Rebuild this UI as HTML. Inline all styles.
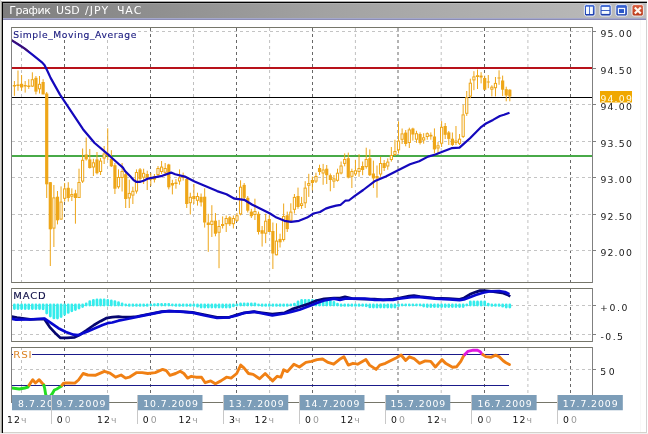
<!DOCTYPE html>
<html><head><meta charset="utf-8"><title>USD/JPY</title>
<style>
html,body{margin:0;padding:0;background:#fff;width:648px;height:434px;overflow:hidden}
svg{display:block}
text{font-family:"DejaVu Sans","Liberation Sans","Noto Sans CJK SC",sans-serif}
</style></head><body>
<svg width="648" height="434" viewBox="0 0 648 434">
<rect x="0" y="0" width="648" height="434" fill="#ffffff"/>
<rect x="0" y="0" width="1" height="434" fill="#d8d8d4"/>
<rect x="1" y="2" width="1" height="432" fill="#a4a49e"/>
<rect x="1" y="1" width="646" height="1" fill="#a8a8a8"/>
<defs><linearGradient id="tg" x1="0" y1="0" x2="1" y2="0"><stop offset="0" stop-color="#7e7e7e"/><stop offset="0.5" stop-color="#a2a2a2"/><stop offset="1" stop-color="#bcbcbc"/></linearGradient><clipPath id="cm"><rect x="12" y="28" width="580" height="254"/></clipPath><clipPath id="cmacd"><rect x="12" y="289" width="580" height="52"/></clipPath><clipPath id="crsi"><rect x="12" y="348" width="580" height="54"/></clipPath><clipPath id="rsiO"><rect x="0" y="354.5" width="648" height="31"/></clipPath><clipPath id="rsiG"><rect x="0" y="385.5" width="648" height="40"/></clipPath><clipPath id="rsiM"><rect x="0" y="300" width="648" height="54.5"/></clipPath></defs>
<rect x="3" y="3" width="643" height="15" fill="url(#tg)"/>
<rect x="3" y="3" width="643" height="1" fill="#ffffff" fill-opacity="0.12"/>
<rect x="3" y="18" width="643" height="1" fill="#a4a8cc"/>
<rect x="3" y="19" width="643" height="1" fill="#8c8cb4"/>
<rect x="2" y="2" width="645" height="1" fill="#000"/>
<rect x="2" y="2" width="1" height="431" fill="#000"/>
<rect x="646" y="3" width="1" height="430" fill="#d2d2d2"/>
<rect x="640" y="20" width="1" height="412" fill="#f8f8f8"/>
<rect x="3" y="432" width="644" height="1" fill="#d4d2cc"/>
<rect x="0" y="433" width="648" height="1" fill="#f0f0f0"/>
<text x="8.30" y="14" transform="scale(1.12,1)" fill="#ffffff" font-size="9.8" textLength="37.05" lengthAdjust="spacing">График</text>
<text x="50.09" y="14" transform="scale(1.12,1)" fill="#ffffff" font-size="9.8" textLength="20.98" lengthAdjust="spacing">USD</text>
<text x="75.80" y="14" transform="scale(1.12,1)" fill="#ffffff" font-size="9.8" textLength="20.89" lengthAdjust="spacing">/JPY</text>
<text x="104.38" y="14" transform="scale(1.12,1)" fill="#ffffff" font-size="9.8" textLength="21.96" lengthAdjust="spacing">ЧАС</text>
<linearGradient id="bb" x1="0" y1="0" x2="0" y2="1"><stop offset="0" stop-color="#3a66d6"/><stop offset="1" stop-color="#1c3ca8"/></linearGradient>
<linearGradient id="br" x1="0" y1="0" x2="0" y2="1"><stop offset="0" stop-color="#dc6040"/><stop offset="1" stop-color="#b83818"/></linearGradient>
<rect x="584.4" y="4.6" width="10.600000000000023" height="11.4" rx="2" fill="url(#bb)" stroke="#f4f8ff" stroke-width="0.9"/>
<rect x="586" y="6.7" width="3.1" height="7.3" fill="#f4faff"/><rect x="589.9" y="6.7" width="3" height="7.3" fill="#f4faff"/>
<rect x="600" y="4.6" width="11.200000000000045" height="11.4" rx="2" fill="url(#bb)" stroke="#f4f8ff" stroke-width="0.9"/>
<rect x="601.6" y="6.9" width="7.8" height="3.1" fill="#f4faff"/><rect x="601.6" y="10.9" width="7.8" height="3" fill="#f4faff"/>
<rect x="615.8" y="4.6" width="11.600000000000023" height="11.4" rx="2" fill="url(#bb)" stroke="#f4f8ff" stroke-width="0.9"/>
<rect x="617.8" y="7.8" width="7.4" height="6.4" fill="#f4faff"/><rect x="619" y="9.1" width="5" height="3.9" fill="#2a56c8"/>
<rect x="632" y="4.6" width="11.399999999999977" height="11.4" rx="2" fill="url(#br)" stroke="#f4f8ff" stroke-width="0.9"/>
<path d="M634.8 7.4L640.8 13.6M640.8 7.4L634.8 13.6" stroke="#fff8f0" stroke-width="2.2"/>
<line x1="21.5" y1="28" x2="21.5" y2="282" stroke="#c0c0c0" stroke-width="1" stroke-dasharray="3 3"/>
<line x1="107.5" y1="28" x2="107.5" y2="282" stroke="#c0c0c0" stroke-width="1" stroke-dasharray="3 3"/>
<line x1="193.5" y1="28" x2="193.5" y2="282" stroke="#c0c0c0" stroke-width="1" stroke-dasharray="3 3"/>
<line x1="269.6" y1="28" x2="269.6" y2="282" stroke="#c0c0c0" stroke-width="1" stroke-dasharray="3 3"/>
<line x1="355.4" y1="28" x2="355.4" y2="282" stroke="#c0c0c0" stroke-width="1" stroke-dasharray="3 3"/>
<line x1="441.2" y1="28" x2="441.2" y2="282" stroke="#c0c0c0" stroke-width="1" stroke-dasharray="3 3"/>
<line x1="527.9" y1="28" x2="527.9" y2="282" stroke="#c0c0c0" stroke-width="1" stroke-dasharray="3 3"/>
<line x1="64.5" y1="28" x2="64.5" y2="282" stroke="#686868" stroke-width="1" stroke-dasharray="3 3"/>
<line x1="150.5" y1="28" x2="150.5" y2="282" stroke="#686868" stroke-width="1" stroke-dasharray="3 3"/>
<line x1="236.5" y1="28" x2="236.5" y2="282" stroke="#686868" stroke-width="1" stroke-dasharray="3 3"/>
<line x1="312.5" y1="28" x2="312.5" y2="282" stroke="#686868" stroke-width="1" stroke-dasharray="3 3"/>
<line x1="398" y1="28" x2="398" y2="282" stroke="#686868" stroke-width="1" stroke-dasharray="3 3"/>
<line x1="484.5" y1="28" x2="484.5" y2="282" stroke="#686868" stroke-width="1" stroke-dasharray="3 3"/>
<line x1="570.5" y1="28" x2="570.5" y2="282" stroke="#686868" stroke-width="1" stroke-dasharray="3 3"/>
<line x1="21.5" y1="289" x2="21.5" y2="341" stroke="#c0c0c0" stroke-width="1" stroke-dasharray="3 3"/>
<line x1="107.5" y1="289" x2="107.5" y2="341" stroke="#c0c0c0" stroke-width="1" stroke-dasharray="3 3"/>
<line x1="193.5" y1="289" x2="193.5" y2="341" stroke="#c0c0c0" stroke-width="1" stroke-dasharray="3 3"/>
<line x1="269.6" y1="289" x2="269.6" y2="341" stroke="#c0c0c0" stroke-width="1" stroke-dasharray="3 3"/>
<line x1="355.4" y1="289" x2="355.4" y2="341" stroke="#c0c0c0" stroke-width="1" stroke-dasharray="3 3"/>
<line x1="441.2" y1="289" x2="441.2" y2="341" stroke="#c0c0c0" stroke-width="1" stroke-dasharray="3 3"/>
<line x1="527.9" y1="289" x2="527.9" y2="341" stroke="#c0c0c0" stroke-width="1" stroke-dasharray="3 3"/>
<line x1="64.5" y1="289" x2="64.5" y2="341" stroke="#686868" stroke-width="1" stroke-dasharray="3 3"/>
<line x1="150.5" y1="289" x2="150.5" y2="341" stroke="#686868" stroke-width="1" stroke-dasharray="3 3"/>
<line x1="236.5" y1="289" x2="236.5" y2="341" stroke="#686868" stroke-width="1" stroke-dasharray="3 3"/>
<line x1="312.5" y1="289" x2="312.5" y2="341" stroke="#686868" stroke-width="1" stroke-dasharray="3 3"/>
<line x1="398" y1="289" x2="398" y2="341" stroke="#686868" stroke-width="1" stroke-dasharray="3 3"/>
<line x1="484.5" y1="289" x2="484.5" y2="341" stroke="#686868" stroke-width="1" stroke-dasharray="3 3"/>
<line x1="570.5" y1="289" x2="570.5" y2="341" stroke="#686868" stroke-width="1" stroke-dasharray="3 3"/>
<line x1="21.5" y1="348" x2="21.5" y2="402" stroke="#c0c0c0" stroke-width="1" stroke-dasharray="3 3"/>
<line x1="107.5" y1="348" x2="107.5" y2="402" stroke="#c0c0c0" stroke-width="1" stroke-dasharray="3 3"/>
<line x1="193.5" y1="348" x2="193.5" y2="402" stroke="#c0c0c0" stroke-width="1" stroke-dasharray="3 3"/>
<line x1="269.6" y1="348" x2="269.6" y2="402" stroke="#c0c0c0" stroke-width="1" stroke-dasharray="3 3"/>
<line x1="355.4" y1="348" x2="355.4" y2="402" stroke="#c0c0c0" stroke-width="1" stroke-dasharray="3 3"/>
<line x1="441.2" y1="348" x2="441.2" y2="402" stroke="#c0c0c0" stroke-width="1" stroke-dasharray="3 3"/>
<line x1="527.9" y1="348" x2="527.9" y2="402" stroke="#c0c0c0" stroke-width="1" stroke-dasharray="3 3"/>
<line x1="64.5" y1="348" x2="64.5" y2="402" stroke="#686868" stroke-width="1" stroke-dasharray="3 3"/>
<line x1="150.5" y1="348" x2="150.5" y2="402" stroke="#686868" stroke-width="1" stroke-dasharray="3 3"/>
<line x1="236.5" y1="348" x2="236.5" y2="402" stroke="#686868" stroke-width="1" stroke-dasharray="3 3"/>
<line x1="312.5" y1="348" x2="312.5" y2="402" stroke="#686868" stroke-width="1" stroke-dasharray="3 3"/>
<line x1="398" y1="348" x2="398" y2="402" stroke="#686868" stroke-width="1" stroke-dasharray="3 3"/>
<line x1="484.5" y1="348" x2="484.5" y2="402" stroke="#686868" stroke-width="1" stroke-dasharray="3 3"/>
<line x1="570.5" y1="348" x2="570.5" y2="402" stroke="#686868" stroke-width="1" stroke-dasharray="3 3"/>
<line x1="12" y1="31.5" x2="592" y2="31.5" stroke="#c4c4c4" stroke-width="1" stroke-dasharray="3 3"/>
<line x1="592" y1="31.5" x2="596" y2="31.5" stroke="#808080" stroke-width="1"/>
<text x="600.4" y="37.1" fill="#1a1a1a" font-size="9.3" textLength="31.4" lengthAdjust="spacing">95.00</text>
<line x1="12" y1="68.5" x2="592" y2="68.5" stroke="#c4c4c4" stroke-width="1" stroke-dasharray="3 3"/>
<line x1="592" y1="68.5" x2="596" y2="68.5" stroke="#808080" stroke-width="1"/>
<text x="600.4" y="74.1" fill="#1a1a1a" font-size="9.3" textLength="31.4" lengthAdjust="spacing">94.50</text>
<line x1="12" y1="104.5" x2="592" y2="104.5" stroke="#c4c4c4" stroke-width="1" stroke-dasharray="3 3"/>
<line x1="592" y1="104.5" x2="596" y2="104.5" stroke="#808080" stroke-width="1"/>
<text x="600.4" y="110.1" fill="#1a1a1a" font-size="9.3" textLength="31.4" lengthAdjust="spacing">94.00</text>
<line x1="12" y1="141.5" x2="592" y2="141.5" stroke="#c4c4c4" stroke-width="1" stroke-dasharray="3 3"/>
<line x1="592" y1="141.5" x2="596" y2="141.5" stroke="#808080" stroke-width="1"/>
<text x="600.4" y="147.1" fill="#1a1a1a" font-size="9.3" textLength="31.4" lengthAdjust="spacing">93.50</text>
<line x1="12" y1="177.5" x2="592" y2="177.5" stroke="#c4c4c4" stroke-width="1" stroke-dasharray="3 3"/>
<line x1="592" y1="177.5" x2="596" y2="177.5" stroke="#808080" stroke-width="1"/>
<text x="600.4" y="183.1" fill="#1a1a1a" font-size="9.3" textLength="31.4" lengthAdjust="spacing">93.00</text>
<line x1="12" y1="214.5" x2="592" y2="214.5" stroke="#c4c4c4" stroke-width="1" stroke-dasharray="3 3"/>
<line x1="592" y1="214.5" x2="596" y2="214.5" stroke="#808080" stroke-width="1"/>
<text x="600.4" y="220.1" fill="#1a1a1a" font-size="9.3" textLength="31.4" lengthAdjust="spacing">92.50</text>
<line x1="12" y1="250.5" x2="592" y2="250.5" stroke="#c4c4c4" stroke-width="1" stroke-dasharray="3 3"/>
<line x1="592" y1="250.5" x2="596" y2="250.5" stroke="#808080" stroke-width="1"/>
<text x="600.4" y="256.1" fill="#1a1a1a" font-size="9.3" textLength="31.4" lengthAdjust="spacing">92.00</text>
<line x1="12" y1="305.5" x2="592" y2="305.5" stroke="#c4c4c4" stroke-width="1" stroke-dasharray="3 3"/>
<line x1="592" y1="305.5" x2="596" y2="305.5" stroke="#808080" stroke-width="1"/>
<text x="600.1" y="311.1" fill="#1a1a1a" font-size="9.3" textLength="27.3" lengthAdjust="spacing">+0.0</text>
<line x1="12" y1="334.5" x2="592" y2="334.5" stroke="#c4c4c4" stroke-width="1" stroke-dasharray="3 3"/>
<line x1="592" y1="334.5" x2="596" y2="334.5" stroke="#808080" stroke-width="1"/>
<text x="600.4" y="340.1" fill="#1a1a1a" font-size="9.3" textLength="22.6" lengthAdjust="spacing">-0.5</text>
<line x1="12" y1="369.5" x2="592" y2="369.5" stroke="#c4c4c4" stroke-width="1" stroke-dasharray="3 3"/>
<line x1="592" y1="369.5" x2="596" y2="369.5" stroke="#808080" stroke-width="1"/>
<text x="600.2" y="375.1" fill="#1a1a1a" font-size="9.3" textLength="14.4" lengthAdjust="spacing">50</text>
<g clip-path="url(#cm)">
<rect x="12" y="67" width="580" height="2" fill="#b8121a"/>
<rect x="12" y="155" width="580" height="2" fill="#48aa48"/>
<rect x="12" y="97" width="580" height="1" fill="#000"/>
<line x1="14.40" y1="81.0" x2="14.40" y2="95.8" stroke="#eea618" stroke-width="1"/><rect x="12.80" y="85.0" width="3.2" height="1.5" fill="#eea618"/><line x1="17.99" y1="70.5" x2="17.99" y2="90.7" stroke="#eea618" stroke-width="1"/><rect x="16.39" y="84.5" width="3.2" height="1.5" fill="#eea618"/><line x1="21.58" y1="75.0" x2="21.58" y2="90.7" stroke="#eea618" stroke-width="1"/><rect x="19.98" y="83.8" width="3.2" height="3.7" fill="#eea618"/><line x1="25.17" y1="81.0" x2="25.17" y2="92.6" stroke="#eea618" stroke-width="1"/><rect x="23.57" y="85.0" width="3.2" height="1.5" fill="#eea618"/><line x1="28.76" y1="79.2" x2="28.76" y2="88.9" stroke="#eea618" stroke-width="1"/><rect x="27.16" y="85.5" width="3.2" height="1.5" fill="#eea618"/><line x1="32.35" y1="72.3" x2="32.35" y2="87.0" stroke="#eea618" stroke-width="1"/><rect x="31.25" y="79.7" width="2.2" height="6.4" fill="#fff" stroke="#eea618" stroke-width="1"/><line x1="35.94" y1="76.0" x2="35.94" y2="94.4" stroke="#eea618" stroke-width="1"/><rect x="34.34" y="77.8" width="3.2" height="13.8" fill="#eea618"/><line x1="39.53" y1="76.0" x2="39.53" y2="93.5" stroke="#eea618" stroke-width="1"/><rect x="38.43" y="84.3" width="2.2" height="4.5" fill="#fff" stroke="#eea618" stroke-width="1"/><line x1="43.12" y1="79.2" x2="43.12" y2="94.4" stroke="#eea618" stroke-width="1"/><rect x="41.52" y="82.0" width="3.2" height="12.4" fill="#eea618"/><line x1="46.71" y1="92.0" x2="46.71" y2="198.0" stroke="#eea618" stroke-width="1"/><rect x="45.11" y="93.5" width="3.2" height="90.8" fill="#eea618"/><line x1="50.30" y1="182.0" x2="50.30" y2="266.0" stroke="#eea618" stroke-width="1"/><rect x="48.70" y="182.2" width="3.2" height="47.1" fill="#eea618"/><line x1="53.89" y1="185.0" x2="53.89" y2="247.0" stroke="#eea618" stroke-width="1"/><rect x="52.79" y="197.9" width="2.2" height="30.2" fill="#fff" stroke="#eea618" stroke-width="1"/><line x1="57.48" y1="191.0" x2="57.48" y2="224.4" stroke="#eea618" stroke-width="1"/><rect x="55.88" y="196.7" width="3.2" height="23.6" fill="#eea618"/><line x1="61.07" y1="186.4" x2="61.07" y2="219.6" stroke="#eea618" stroke-width="1"/><rect x="59.97" y="202.1" width="2.2" height="17.0" fill="#fff" stroke="#eea618" stroke-width="1"/><line x1="64.66" y1="183.0" x2="64.66" y2="201.6" stroke="#eea618" stroke-width="1"/><rect x="63.56" y="188.9" width="2.2" height="9.4" fill="#fff" stroke="#eea618" stroke-width="1"/><line x1="68.25" y1="182.2" x2="68.25" y2="201.6" stroke="#eea618" stroke-width="1"/><rect x="66.65" y="187.8" width="3.2" height="10.2" fill="#eea618"/><line x1="71.84" y1="188.4" x2="71.84" y2="201.0" stroke="#eea618" stroke-width="1"/><rect x="70.74" y="194.5" width="2.2" height="1.7" fill="#fff" stroke="#eea618" stroke-width="1"/><line x1="75.43" y1="189.8" x2="75.43" y2="223.7" stroke="#eea618" stroke-width="1"/><rect x="73.83" y="193.3" width="3.2" height="4.7" fill="#eea618"/><line x1="79.02" y1="168.7" x2="79.02" y2="198.0" stroke="#eea618" stroke-width="1"/><rect x="77.92" y="182.5" width="2.2" height="15.0" fill="#fff" stroke="#eea618" stroke-width="1"/><line x1="82.61" y1="148.5" x2="82.61" y2="183.0" stroke="#eea618" stroke-width="1"/><rect x="81.51" y="160.3" width="2.2" height="20.8" fill="#fff" stroke="#eea618" stroke-width="1"/><line x1="86.20" y1="137.5" x2="86.20" y2="160.6" stroke="#eea618" stroke-width="1"/><rect x="84.60" y="154.5" width="3.2" height="4.9" fill="#eea618"/><line x1="89.79" y1="149.0" x2="89.79" y2="168.6" stroke="#eea618" stroke-width="1"/><rect x="88.19" y="159.4" width="3.2" height="8.6" fill="#eea618"/><line x1="93.38" y1="158.8" x2="93.38" y2="176.0" stroke="#eea618" stroke-width="1"/><rect x="92.28" y="162.8" width="2.2" height="4.2" fill="#fff" stroke="#eea618" stroke-width="1"/><line x1="96.97" y1="152.0" x2="96.97" y2="174.4" stroke="#eea618" stroke-width="1"/><rect x="95.37" y="159.4" width="3.2" height="13.8" fill="#eea618"/><line x1="100.56" y1="158.0" x2="100.56" y2="175.0" stroke="#eea618" stroke-width="1"/><rect x="99.46" y="161.1" width="2.2" height="10.4" fill="#fff" stroke="#eea618" stroke-width="1"/><line x1="104.15" y1="146.0" x2="104.15" y2="164.0" stroke="#eea618" stroke-width="1"/><rect x="103.05" y="154.0" width="2.2" height="4.0" fill="#fff" stroke="#eea618" stroke-width="1"/><line x1="107.74" y1="128.3" x2="107.74" y2="160.0" stroke="#eea618" stroke-width="1"/><rect x="106.14" y="153.6" width="3.2" height="2.4" fill="#eea618"/><line x1="111.33" y1="150.2" x2="111.33" y2="167.0" stroke="#eea618" stroke-width="1"/><rect x="109.73" y="158.8" width="3.2" height="7.5" fill="#eea618"/><line x1="114.92" y1="163.0" x2="114.92" y2="194.0" stroke="#eea618" stroke-width="1"/><rect x="113.32" y="165.2" width="3.2" height="23.5" fill="#eea618"/><line x1="118.51" y1="169.4" x2="118.51" y2="188.7" stroke="#eea618" stroke-width="1"/><rect x="117.41" y="177.5" width="2.2" height="9.3" fill="#fff" stroke="#eea618" stroke-width="1"/><line x1="122.10" y1="163.0" x2="122.10" y2="191.5" stroke="#eea618" stroke-width="1"/><rect x="121.00" y="171.5" width="2.2" height="6.0" fill="#fff" stroke="#eea618" stroke-width="1"/><line x1="125.69" y1="172.8" x2="125.69" y2="208.0" stroke="#eea618" stroke-width="1"/><rect x="124.09" y="174.2" width="3.2" height="24.8" fill="#eea618"/><line x1="129.28" y1="179.7" x2="129.28" y2="208.0" stroke="#eea618" stroke-width="1"/><rect x="128.18" y="193.4" width="2.2" height="4.5" fill="#fff" stroke="#eea618" stroke-width="1"/><line x1="132.87" y1="186.7" x2="132.87" y2="204.0" stroke="#eea618" stroke-width="1"/><rect x="131.77" y="191.3" width="2.2" height="3.8" fill="#fff" stroke="#eea618" stroke-width="1"/><line x1="136.46" y1="169.4" x2="136.46" y2="193.6" stroke="#eea618" stroke-width="1"/><rect x="135.36" y="172.5" width="2.2" height="18.5" fill="#fff" stroke="#eea618" stroke-width="1"/><line x1="140.05" y1="168.0" x2="140.05" y2="183.0" stroke="#eea618" stroke-width="1"/><rect x="138.45" y="169.4" width="3.2" height="9.6" fill="#eea618"/><line x1="143.64" y1="168.7" x2="143.64" y2="184.0" stroke="#eea618" stroke-width="1"/><rect x="142.54" y="173.3" width="2.2" height="3.9" fill="#fff" stroke="#eea618" stroke-width="1"/><line x1="147.23" y1="170.7" x2="147.23" y2="190.0" stroke="#eea618" stroke-width="1"/><rect x="145.63" y="174.0" width="3.2" height="3.7" fill="#eea618"/><line x1="150.82" y1="172.8" x2="150.82" y2="186.0" stroke="#eea618" stroke-width="1"/><rect x="149.22" y="177.7" width="3.2" height="2.0" fill="#eea618"/><line x1="154.41" y1="174.0" x2="154.41" y2="182.5" stroke="#eea618" stroke-width="1"/><rect x="152.81" y="176.3" width="3.2" height="3.4" fill="#eea618"/><line x1="158.00" y1="166.0" x2="158.00" y2="177.0" stroke="#eea618" stroke-width="1"/><rect x="156.90" y="168.5" width="2.2" height="6.0" fill="#fff" stroke="#eea618" stroke-width="1"/><line x1="161.59" y1="161.0" x2="161.59" y2="174.2" stroke="#eea618" stroke-width="1"/><rect x="160.49" y="167.1" width="2.2" height="4.4" fill="#fff" stroke="#eea618" stroke-width="1"/><line x1="165.18" y1="163.0" x2="165.18" y2="175.6" stroke="#eea618" stroke-width="1"/><rect x="164.08" y="168.5" width="2.2" height="3.8" fill="#fff" stroke="#eea618" stroke-width="1"/><line x1="168.77" y1="163.8" x2="168.77" y2="189.4" stroke="#eea618" stroke-width="1"/><rect x="167.17" y="164.5" width="3.2" height="22.8" fill="#eea618"/><line x1="172.36" y1="179.8" x2="172.36" y2="194.4" stroke="#eea618" stroke-width="1"/><rect x="170.76" y="183.0" width="3.2" height="2.5" fill="#eea618"/><line x1="175.95" y1="179.0" x2="175.95" y2="188.7" stroke="#eea618" stroke-width="1"/><rect x="174.35" y="182.5" width="3.2" height="1.5" fill="#eea618"/><line x1="179.54" y1="169.4" x2="179.54" y2="184.7" stroke="#eea618" stroke-width="1"/><rect x="178.44" y="177.9" width="2.2" height="3.1" fill="#fff" stroke="#eea618" stroke-width="1"/><line x1="183.13" y1="172.6" x2="183.13" y2="180.6" stroke="#eea618" stroke-width="1"/><rect x="181.53" y="175.5" width="3.2" height="2.5" fill="#eea618"/><line x1="186.72" y1="178.2" x2="186.72" y2="208.0" stroke="#eea618" stroke-width="1"/><rect x="185.12" y="179.0" width="3.2" height="25.0" fill="#eea618"/><line x1="190.31" y1="192.7" x2="190.31" y2="214.5" stroke="#eea618" stroke-width="1"/><rect x="189.21" y="197.3" width="2.2" height="5.4" fill="#fff" stroke="#eea618" stroke-width="1"/><line x1="193.90" y1="184.0" x2="193.90" y2="204.0" stroke="#eea618" stroke-width="1"/><rect x="192.30" y="196.0" width="3.2" height="3.0" fill="#eea618"/><line x1="197.49" y1="192.7" x2="197.49" y2="205.6" stroke="#eea618" stroke-width="1"/><rect x="196.39" y="196.5" width="2.2" height="3.8" fill="#fff" stroke="#eea618" stroke-width="1"/><line x1="201.08" y1="193.5" x2="201.08" y2="206.5" stroke="#eea618" stroke-width="1"/><rect x="199.48" y="196.8" width="3.2" height="5.6" fill="#eea618"/><line x1="204.67" y1="188.3" x2="204.67" y2="227.6" stroke="#eea618" stroke-width="1"/><rect x="203.07" y="196.7" width="3.2" height="25.8" fill="#eea618"/><line x1="208.26" y1="213.8" x2="208.26" y2="251.8" stroke="#eea618" stroke-width="1"/><rect x="206.66" y="222.5" width="3.2" height="2.5" fill="#eea618"/><line x1="211.85" y1="205.2" x2="211.85" y2="237.0" stroke="#eea618" stroke-width="1"/><rect x="210.75" y="221.2" width="2.2" height="3.3" fill="#fff" stroke="#eea618" stroke-width="1"/><line x1="215.44" y1="213.0" x2="215.44" y2="236.3" stroke="#eea618" stroke-width="1"/><rect x="213.84" y="220.7" width="3.2" height="13.0" fill="#eea618"/><line x1="219.03" y1="219.9" x2="219.03" y2="268.2" stroke="#eea618" stroke-width="1"/><rect x="217.93" y="226.5" width="2.2" height="5.8" fill="#fff" stroke="#eea618" stroke-width="1"/><line x1="222.62" y1="216.4" x2="222.62" y2="228.5" stroke="#eea618" stroke-width="1"/><rect x="221.02" y="224.0" width="3.2" height="2.0" fill="#eea618"/><line x1="226.21" y1="215.5" x2="226.21" y2="232.0" stroke="#eea618" stroke-width="1"/><rect x="225.11" y="218.5" width="2.2" height="5.2" fill="#fff" stroke="#eea618" stroke-width="1"/><line x1="229.80" y1="216.0" x2="229.80" y2="226.0" stroke="#eea618" stroke-width="1"/><rect x="228.20" y="217.3" width="3.2" height="6.9" fill="#eea618"/><line x1="233.39" y1="215.5" x2="233.39" y2="228.5" stroke="#eea618" stroke-width="1"/><rect x="232.29" y="218.5" width="2.2" height="5.2" fill="#fff" stroke="#eea618" stroke-width="1"/><line x1="236.98" y1="213.0" x2="236.98" y2="222.0" stroke="#eea618" stroke-width="1"/><rect x="235.88" y="215.8" width="2.2" height="4.5" fill="#fff" stroke="#eea618" stroke-width="1"/><line x1="240.57" y1="180.3" x2="240.57" y2="215.3" stroke="#eea618" stroke-width="1"/><rect x="239.47" y="187.2" width="2.2" height="26.7" fill="#fff" stroke="#eea618" stroke-width="1"/><line x1="244.16" y1="183.0" x2="244.16" y2="199.6" stroke="#eea618" stroke-width="1"/><rect x="242.56" y="184.9" width="3.2" height="12.9" fill="#eea618"/><line x1="247.75" y1="196.0" x2="247.75" y2="212.5" stroke="#eea618" stroke-width="1"/><rect x="246.15" y="197.8" width="3.2" height="12.9" fill="#eea618"/><line x1="251.34" y1="208.8" x2="251.34" y2="218.0" stroke="#eea618" stroke-width="1"/><rect x="249.74" y="211.6" width="3.2" height="4.6" fill="#eea618"/><line x1="254.93" y1="198.7" x2="254.93" y2="220.0" stroke="#eea618" stroke-width="1"/><rect x="253.83" y="211.5" width="2.2" height="3.0" fill="#fff" stroke="#eea618" stroke-width="1"/><line x1="258.52" y1="211.6" x2="258.52" y2="234.5" stroke="#eea618" stroke-width="1"/><rect x="256.92" y="213.8" width="3.2" height="18.2" fill="#eea618"/><line x1="262.11" y1="226.0" x2="262.11" y2="246.6" stroke="#eea618" stroke-width="1"/><rect x="260.51" y="230.2" width="3.2" height="3.5" fill="#eea618"/><line x1="265.70" y1="213.8" x2="265.70" y2="243.2" stroke="#eea618" stroke-width="1"/><rect x="264.60" y="221.2" width="2.2" height="12.0" fill="#fff" stroke="#eea618" stroke-width="1"/><line x1="269.29" y1="215.3" x2="269.29" y2="232.0" stroke="#eea618" stroke-width="1"/><rect x="267.69" y="219.0" width="3.2" height="13.0" fill="#eea618"/><line x1="272.88" y1="222.5" x2="272.88" y2="269.0" stroke="#eea618" stroke-width="1"/><rect x="271.28" y="231.0" width="3.2" height="22.5" fill="#eea618"/><line x1="276.47" y1="223.3" x2="276.47" y2="255.3" stroke="#eea618" stroke-width="1"/><rect x="275.37" y="241.1" width="2.2" height="13.7" fill="#fff" stroke="#eea618" stroke-width="1"/><line x1="280.06" y1="233.7" x2="280.06" y2="247.5" stroke="#eea618" stroke-width="1"/><rect x="278.46" y="238.9" width="3.2" height="3.4" fill="#eea618"/><line x1="283.65" y1="203.5" x2="283.65" y2="241.5" stroke="#eea618" stroke-width="1"/><rect x="282.55" y="216.5" width="2.2" height="23.0" fill="#fff" stroke="#eea618" stroke-width="1"/><line x1="287.24" y1="211.6" x2="287.24" y2="232.0" stroke="#eea618" stroke-width="1"/><rect x="285.64" y="215.3" width="3.2" height="13.8" fill="#eea618"/><line x1="290.83" y1="203.3" x2="290.83" y2="222.7" stroke="#eea618" stroke-width="1"/><rect x="289.73" y="212.1" width="2.2" height="8.2" fill="#fff" stroke="#eea618" stroke-width="1"/><line x1="294.42" y1="194.0" x2="294.42" y2="213.5" stroke="#eea618" stroke-width="1"/><rect x="293.32" y="197.4" width="2.2" height="11.9" fill="#fff" stroke="#eea618" stroke-width="1"/><line x1="298.01" y1="187.6" x2="298.01" y2="208.8" stroke="#eea618" stroke-width="1"/><rect x="296.41" y="196.0" width="3.2" height="11.0" fill="#eea618"/><line x1="301.60" y1="196.9" x2="301.60" y2="208.8" stroke="#eea618" stroke-width="1"/><rect x="300.50" y="203.8" width="2.2" height="1.7" fill="#fff" stroke="#eea618" stroke-width="1"/><line x1="305.19" y1="181.2" x2="305.19" y2="208.0" stroke="#eea618" stroke-width="1"/><rect x="304.09" y="188.1" width="2.2" height="14.7" fill="#fff" stroke="#eea618" stroke-width="1"/><line x1="308.78" y1="173.8" x2="308.78" y2="196.9" stroke="#eea618" stroke-width="1"/><rect x="307.68" y="183.5" width="2.2" height="1.8" fill="#fff" stroke="#eea618" stroke-width="1"/><line x1="312.37" y1="176.6" x2="312.37" y2="190.4" stroke="#eea618" stroke-width="1"/><rect x="310.77" y="180.0" width="3.2" height="3.0" fill="#eea618"/><line x1="315.96" y1="172.7" x2="315.96" y2="183.0" stroke="#eea618" stroke-width="1"/><rect x="314.86" y="176.5" width="2.2" height="4.6" fill="#fff" stroke="#eea618" stroke-width="1"/><line x1="319.55" y1="164.7" x2="319.55" y2="175.0" stroke="#eea618" stroke-width="1"/><rect x="317.95" y="168.0" width="3.2" height="4.0" fill="#eea618"/><line x1="323.14" y1="163.9" x2="323.14" y2="184.8" stroke="#eea618" stroke-width="1"/><rect x="322.04" y="170.0" width="2.2" height="3.0" fill="#fff" stroke="#eea618" stroke-width="1"/><line x1="326.73" y1="165.0" x2="326.73" y2="184.0" stroke="#eea618" stroke-width="1"/><rect x="325.13" y="168.7" width="3.2" height="6.5" fill="#eea618"/><line x1="330.32" y1="173.5" x2="330.32" y2="191.3" stroke="#eea618" stroke-width="1"/><rect x="328.72" y="175.2" width="3.2" height="4.8" fill="#eea618"/><line x1="333.91" y1="175.0" x2="333.91" y2="188.0" stroke="#eea618" stroke-width="1"/><rect x="332.81" y="178.9" width="2.2" height="2.2" fill="#fff" stroke="#eea618" stroke-width="1"/><line x1="337.50" y1="168.7" x2="337.50" y2="181.6" stroke="#eea618" stroke-width="1"/><rect x="336.40" y="173.2" width="2.2" height="7.1" fill="#fff" stroke="#eea618" stroke-width="1"/><line x1="341.09" y1="161.5" x2="341.09" y2="174.4" stroke="#eea618" stroke-width="1"/><rect x="339.99" y="166.0" width="2.2" height="7.0" fill="#fff" stroke="#eea618" stroke-width="1"/><line x1="344.68" y1="153.4" x2="344.68" y2="166.3" stroke="#eea618" stroke-width="1"/><rect x="343.58" y="159.5" width="2.2" height="3.9" fill="#fff" stroke="#eea618" stroke-width="1"/><line x1="348.27" y1="152.6" x2="348.27" y2="178.4" stroke="#eea618" stroke-width="1"/><rect x="346.67" y="158.2" width="3.2" height="19.4" fill="#eea618"/><line x1="351.86" y1="168.7" x2="351.86" y2="188.0" stroke="#eea618" stroke-width="1"/><rect x="350.76" y="171.5" width="2.2" height="4.8" fill="#fff" stroke="#eea618" stroke-width="1"/><line x1="355.45" y1="159.8" x2="355.45" y2="176.0" stroke="#eea618" stroke-width="1"/><rect x="354.35" y="170.8" width="2.2" height="3.1" fill="#fff" stroke="#eea618" stroke-width="1"/><line x1="359.04" y1="154.2" x2="359.04" y2="176.8" stroke="#eea618" stroke-width="1"/><rect x="357.94" y="168.5" width="2.2" height="3.0" fill="#fff" stroke="#eea618" stroke-width="1"/><line x1="362.63" y1="161.5" x2="362.63" y2="175.2" stroke="#eea618" stroke-width="1"/><rect x="361.03" y="166.0" width="3.2" height="4.0" fill="#eea618"/><line x1="366.22" y1="147.7" x2="366.22" y2="168.7" stroke="#eea618" stroke-width="1"/><rect x="365.12" y="159.5" width="2.2" height="7.1" fill="#fff" stroke="#eea618" stroke-width="1"/><line x1="369.81" y1="149.4" x2="369.81" y2="176.0" stroke="#eea618" stroke-width="1"/><rect x="368.21" y="158.2" width="3.2" height="17.0" fill="#eea618"/><line x1="373.40" y1="160.6" x2="373.40" y2="188.0" stroke="#eea618" stroke-width="1"/><rect x="371.80" y="173.5" width="3.2" height="4.9" fill="#eea618"/><line x1="376.99" y1="165.5" x2="376.99" y2="197.7" stroke="#eea618" stroke-width="1"/><rect x="375.39" y="176.0" width="3.2" height="2.4" fill="#eea618"/><line x1="380.58" y1="156.8" x2="380.58" y2="176.8" stroke="#eea618" stroke-width="1"/><rect x="379.48" y="163.5" width="2.2" height="10.5" fill="#fff" stroke="#eea618" stroke-width="1"/><line x1="384.17" y1="160.0" x2="384.17" y2="171.0" stroke="#eea618" stroke-width="1"/><rect x="382.57" y="163.0" width="3.2" height="5.0" fill="#eea618"/><line x1="387.76" y1="158.4" x2="387.76" y2="169.7" stroke="#eea618" stroke-width="1"/><rect x="386.66" y="162.1" width="2.2" height="3.9" fill="#fff" stroke="#eea618" stroke-width="1"/><line x1="391.35" y1="147.0" x2="391.35" y2="161.6" stroke="#eea618" stroke-width="1"/><rect x="390.25" y="155.5" width="2.2" height="4.0" fill="#fff" stroke="#eea618" stroke-width="1"/><line x1="394.94" y1="139.8" x2="394.94" y2="156.0" stroke="#eea618" stroke-width="1"/><rect x="393.84" y="151.5" width="2.2" height="3.0" fill="#fff" stroke="#eea618" stroke-width="1"/><line x1="398.53" y1="121.3" x2="398.53" y2="153.5" stroke="#eea618" stroke-width="1"/><rect x="397.43" y="141.1" width="2.2" height="8.7" fill="#fff" stroke="#eea618" stroke-width="1"/><line x1="402.12" y1="128.5" x2="402.12" y2="144.0" stroke="#eea618" stroke-width="1"/><rect x="401.02" y="133.9" width="2.2" height="5.4" fill="#fff" stroke="#eea618" stroke-width="1"/><line x1="405.71" y1="130.0" x2="405.71" y2="146.3" stroke="#eea618" stroke-width="1"/><rect x="404.11" y="132.6" width="3.2" height="11.4" fill="#eea618"/><line x1="409.30" y1="127.7" x2="409.30" y2="148.0" stroke="#eea618" stroke-width="1"/><rect x="408.20" y="129.9" width="2.2" height="12.6" fill="#fff" stroke="#eea618" stroke-width="1"/><line x1="412.89" y1="127.7" x2="412.89" y2="140.6" stroke="#eea618" stroke-width="1"/><rect x="411.29" y="128.5" width="3.2" height="6.0" fill="#eea618"/><line x1="416.48" y1="130.8" x2="416.48" y2="142.9" stroke="#eea618" stroke-width="1"/><rect x="415.38" y="133.7" width="2.2" height="5.5" fill="#fff" stroke="#eea618" stroke-width="1"/><line x1="420.07" y1="132.4" x2="420.07" y2="144.5" stroke="#eea618" stroke-width="1"/><rect x="418.47" y="134.0" width="3.2" height="9.0" fill="#eea618"/><line x1="423.66" y1="133.2" x2="423.66" y2="143.7" stroke="#eea618" stroke-width="1"/><rect x="422.56" y="137.8" width="2.2" height="2.2" fill="#fff" stroke="#eea618" stroke-width="1"/><line x1="427.25" y1="132.4" x2="427.25" y2="139.7" stroke="#eea618" stroke-width="1"/><rect x="426.15" y="133.7" width="2.2" height="2.8" fill="#fff" stroke="#eea618" stroke-width="1"/><line x1="430.84" y1="132.4" x2="430.84" y2="139.7" stroke="#eea618" stroke-width="1"/><rect x="429.24" y="134.8" width="3.2" height="1.7" fill="#eea618"/><line x1="434.43" y1="128.4" x2="434.43" y2="153.4" stroke="#eea618" stroke-width="1"/><rect x="432.83" y="136.5" width="3.2" height="12.9" fill="#eea618"/><line x1="438.02" y1="142.0" x2="438.02" y2="153.4" stroke="#eea618" stroke-width="1"/><rect x="436.92" y="145.8" width="2.2" height="2.2" fill="#fff" stroke="#eea618" stroke-width="1"/><line x1="441.61" y1="121.1" x2="441.61" y2="147.0" stroke="#eea618" stroke-width="1"/><rect x="440.51" y="127.3" width="2.2" height="15.9" fill="#fff" stroke="#eea618" stroke-width="1"/><line x1="445.20" y1="123.0" x2="445.20" y2="139.0" stroke="#eea618" stroke-width="1"/><rect x="443.60" y="126.0" width="3.2" height="8.8" fill="#eea618"/><line x1="448.79" y1="131.0" x2="448.79" y2="145.0" stroke="#eea618" stroke-width="1"/><rect x="447.19" y="132.4" width="3.2" height="6.5" fill="#eea618"/><line x1="452.38" y1="132.5" x2="452.38" y2="146.0" stroke="#eea618" stroke-width="1"/><rect x="450.78" y="138.7" width="3.2" height="6.3" fill="#eea618"/><line x1="455.97" y1="126.0" x2="455.97" y2="145.0" stroke="#eea618" stroke-width="1"/><rect x="454.87" y="141.0" width="2.2" height="1.5" fill="#fff" stroke="#eea618" stroke-width="1"/><line x1="459.56" y1="134.0" x2="459.56" y2="145.0" stroke="#eea618" stroke-width="1"/><rect x="458.46" y="139.2" width="2.2" height="4.2" fill="#fff" stroke="#eea618" stroke-width="1"/><line x1="463.15" y1="104.6" x2="463.15" y2="138.0" stroke="#eea618" stroke-width="1"/><rect x="462.05" y="114.9" width="2.2" height="21.5" fill="#fff" stroke="#eea618" stroke-width="1"/><line x1="466.74" y1="91.0" x2="466.74" y2="115.9" stroke="#eea618" stroke-width="1"/><rect x="465.64" y="97.7" width="2.2" height="15.6" fill="#fff" stroke="#eea618" stroke-width="1"/><line x1="470.33" y1="78.7" x2="470.33" y2="98.2" stroke="#eea618" stroke-width="1"/><rect x="469.23" y="83.2" width="2.2" height="12.9" fill="#fff" stroke="#eea618" stroke-width="1"/><line x1="473.92" y1="71.2" x2="473.92" y2="90.2" stroke="#eea618" stroke-width="1"/><rect x="472.82" y="76.9" width="2.2" height="3.0" fill="#fff" stroke="#eea618" stroke-width="1"/><line x1="477.51" y1="69.5" x2="477.51" y2="89.0" stroke="#eea618" stroke-width="1"/><rect x="476.41" y="75.7" width="2.2" height="0.8" fill="#fff" stroke="#eea618" stroke-width="1"/><line x1="481.10" y1="72.2" x2="481.10" y2="83.4" stroke="#eea618" stroke-width="1"/><rect x="479.50" y="75.6" width="3.2" height="1.9" fill="#eea618"/><line x1="484.69" y1="75.6" x2="484.69" y2="90.1" stroke="#eea618" stroke-width="1"/><rect x="483.09" y="78.0" width="3.2" height="11.7" fill="#eea618"/><line x1="488.28" y1="75.0" x2="488.28" y2="88.2" stroke="#eea618" stroke-width="1"/><rect x="486.68" y="81.5" width="3.2" height="1.0" fill="#eea618"/><line x1="491.87" y1="85.3" x2="491.87" y2="96.4" stroke="#eea618" stroke-width="1"/><rect x="490.77" y="87.2" width="2.2" height="2.0" fill="#fff" stroke="#eea618" stroke-width="1"/><line x1="495.46" y1="77.0" x2="495.46" y2="96.4" stroke="#eea618" stroke-width="1"/><rect x="494.36" y="83.4" width="2.2" height="4.3" fill="#fff" stroke="#eea618" stroke-width="1"/><line x1="499.05" y1="70.3" x2="499.05" y2="84.8" stroke="#eea618" stroke-width="1"/><rect x="497.45" y="77.5" width="3.2" height="1.0" fill="#eea618"/><line x1="502.64" y1="75.6" x2="502.64" y2="96.0" stroke="#eea618" stroke-width="1"/><rect x="501.04" y="80.5" width="3.2" height="9.2" fill="#eea618"/><line x1="506.23" y1="86.7" x2="506.23" y2="101.3" stroke="#eea618" stroke-width="1"/><rect x="504.63" y="89.2" width="3.2" height="6.3" fill="#eea618"/><line x1="509.82" y1="89.2" x2="509.82" y2="101.3" stroke="#eea618" stroke-width="1"/><rect x="508.22" y="89.7" width="3.2" height="6.8" fill="#eea618"/>
<polyline points="11,39.8 19.2,45 24.7,48.7 33,55.2 42.3,62.6 44.6,65.3 47.8,71.8 50.6,77.9 60,94.6 71.5,111.9 83,129.2 94.6,143 109.5,155.7 120.1,165.2 122.9,167.6 125,171 130,176 134,180.4 136.2,181.8 140.2,181.8 143.6,180.7 148,178.6 162.3,175.8 171.1,172.6 175.2,174.2 184.8,176.6 194.5,181.5 205.8,186.3 217.1,191.1 226.5,194.2 234.5,198.7 244.2,199.8 252.3,204.7 262,209.5 270,213.5 276.5,217.6 284.5,220.8 291,221.9 299,220.8 307.1,217.6 313.5,213.5 320,212 325.7,208.6 330.3,207.1 336.1,205.6 340.7,204.8 345.3,200.7 348.8,200.5 354.5,196.1 363.2,190 374.5,181.3 385.8,176.5 397.1,170.8 410,164.3 419.2,161.3 428,156.6 435.4,154.5 444.3,151 451.5,148.2 459.5,147.6 464,143.6 470,138.3 481.4,126.8 486,123.5 493,119.9 499.9,116 504,114.8 509.5,112.7" fill="none" stroke="#1408bc" stroke-width="2.2" stroke-linejoin="round"/>
<polyline points="11,39.6 19.2,44.8 24.7,48.5 28,51" fill="none" stroke="#501050" stroke-width="1.6" stroke-opacity="0.75" stroke-linecap="round"/>
</g>
<rect x="12" y="28" width="125" height="10.6" fill="#fff"/>
<text x="13.3" y="38" fill="#18187e" stroke="#18187e" stroke-width="0.12" font-size="9.2" textLength="123" lengthAdjust="spacing">Simple_Moving_Average</text>
<rect x="600" y="91" width="32" height="11.5" fill="#f0a800"/>
<text x="600.4" y="101.5" fill="#fffbe0" font-size="9.3" textLength="31.4" lengthAdjust="spacing">94.09</text>
<g clip-path="url(#cmacd)">
<path d="M14.40 305.0V308.6M17.99 305.0V308.6M21.58 305.0V308.6M25.17 305.0V308.6M28.76 305.0V308.6M32.35 305.0V308.6M35.94 305.0V308.6M39.53 305.0V308.6M43.12 305.0V308.8M46.71 305.0V313.1M50.30 305.0V316.1M53.89 305.0V317.9M57.48 305.0V318.0M61.07 305.0V316.5M64.66 305.0V314.3M68.25 305.0V312.4M71.84 305.0V310.8M75.43 305.0V309.5M79.02 305.0V308.1M82.61 305.0V306.5M86.20 305.0V303.9M89.79 305.0V301.6M93.38 305.0V300.5M96.97 305.0V300.0M100.56 305.0V300.0M104.15 305.0V300.0M107.74 305.0V300.3M111.33 305.0V300.9M114.92 305.0V301.7M118.51 305.0V302.7M122.10 305.0V304.0M125.69 305.0V305.0M129.28 305.0V305.4M132.87 305.0V305.4M136.46 305.0V305.4M140.05 305.0V305.4M143.64 305.0V305.4M147.23 305.0V305.4M150.82 305.0V305.0M154.41 305.0V304.6M158.00 305.0V304.5M161.59 305.0V304.5M165.18 305.0V304.5M168.77 305.0V304.5M172.36 305.0V304.9M175.95 305.0V305.4M179.54 305.0V305.4M183.13 305.0V305.4M186.72 305.0V305.4M190.31 305.0V305.4M193.90 305.0V305.4M197.49 305.0V306.2M201.08 305.0V307.0M204.67 305.0V307.0M208.26 305.0V307.0M211.85 305.0V307.0M215.44 305.0V307.0M219.03 305.0V307.0M222.62 305.0V307.0M226.21 305.0V307.0M229.80 305.0V307.0M233.39 305.0V305.9M236.98 305.0V304.8M240.57 305.0V304.0M244.16 305.0V304.0M247.75 305.0V304.0M251.34 305.0V304.0M254.93 305.0V304.0M258.52 305.0V305.0M262.11 305.0V305.4M265.70 305.0V305.4M269.29 305.0V305.4M272.88 305.0V305.4M276.47 305.0V305.4M280.06 305.0V305.4M283.65 305.0V305.4M287.24 305.0V305.4M290.83 305.0V305.0M294.42 305.0V304.2M298.01 305.0V301.9M301.60 305.0V300.5M305.19 305.0V300.5M308.78 305.0V300.5M312.37 305.0V300.5M315.96 305.0V300.5M319.55 305.0V300.5M323.14 305.0V300.5M326.73 305.0V300.5M330.32 305.0V300.7M333.91 305.0V302.5M337.50 305.0V304.2M341.09 305.0V305.4M344.68 305.0V305.4M348.27 305.0V305.4M351.86 305.0V305.4M355.45 305.0V305.4M359.04 305.0V305.4M362.63 305.0V305.4M366.22 305.0V305.8M369.81 305.0V306.9M373.40 305.0V307.0M376.99 305.0V307.0M380.58 305.0V307.0M384.17 305.0V307.0M387.76 305.0V307.0M391.35 305.0V307.0M394.94 305.0V307.0M398.53 305.0V305.6M402.12 305.0V305.0M405.71 305.0V305.0M409.30 305.0V305.0M412.89 305.0V305.0M416.48 305.0V305.0M420.07 305.0V305.0M423.66 305.0V306.1M427.25 305.0V306.5M430.84 305.0V306.5M434.43 305.0V306.5M438.02 305.0V306.5M441.61 305.0V306.5M445.20 305.0V306.5M448.79 305.0V306.5M452.38 305.0V306.5M455.97 305.0V306.5M459.56 305.0V306.5M463.15 305.0V306.5M466.74 305.0V304.9M470.33 305.0V302.0M473.92 305.0V302.0M477.51 305.0V302.0M481.10 305.0V302.0M484.69 305.0V302.0M488.28 305.0V304.2M491.87 305.0V305.4M495.46 305.0V305.4M499.05 305.0V305.4M502.64 305.0V306.2M506.23 305.0V307.0M509.82 305.0V307.0" stroke="#34ecec" stroke-width="2.8" stroke-linecap="round" fill="none"/>
<polyline points="11,316.5 17,317.5 30,319.3 44.3,319 49.7,327.1 56.2,334.1 60.5,337.9 67,337.9 74.6,337.4 80,334.7 86.4,330.4 94,325 100.5,321.2 106.2,318.2 112.3,317.2 118.5,316.7 122.2,317 130.9,317.2 137,316.5 149.4,314 161.7,311.7 169.1,311 180,311.5 192.3,312.3 204.7,314.8 217,317.3 229.4,317.3 236.8,314.8 244.2,312.9 254,311.7 260,312.5 272.3,314.1 284.7,312.8 292.1,309.1 299.5,306.7 309.4,303.6 316.8,300.5 324.2,298.8 334,298.2 340,298 345,296.8 352.3,298.6 364.7,299.2 374.6,299.2 383.2,299.8 393,299.2 399.3,298 409.1,296.1 414,295.5 420,296.5 434.7,298 449.3,298.7 459.6,299.4 464,298 469.9,294.3 475.7,292.1 480.1,290.6 484.5,290.6 493.3,291.7 502.1,292.8 508,295 510.2,296.5" fill="none" stroke="#06066e" stroke-width="2.7" stroke-linejoin="round"/>
<polyline points="11,318.8 16,319.6 30,319.5 44.3,318.5 50.8,322.8 58.4,328.2 65.9,332 73.5,334.7 77.8,335.2 81,334.1 87.5,331.4 95,328.2 102.6,325 109,322.8 112.3,322.5 118.5,320.7 124.7,319.5 130.9,318.2 137,316.9 149.4,314.4 161.7,311.9 169.1,311.1 180,311.7 192.3,312.6 204.7,315.5 217,318 229.4,317.3 236.8,315.5 244.2,313 254,311.8 260,313 272.3,315.3 284.7,313.5 292.1,311.6 299.5,309.8 309.4,306 316.8,303 324.2,300.5 334,298.6 340,299.9 345,298.7 352.3,298.7 364.7,298.7 374.6,299.9 383.2,299.9 393,299.9 399.3,298.7 409.1,297.5 414,296.8 420,297.2 434.7,298.6 449.3,299.4 459.6,300.1 464,299.4 469.9,297.2 475.7,295 483,292.8 490.4,291.3 499.2,291 505,292 509.4,294.3" fill="none" stroke="#0808d0" stroke-width="2.7" stroke-linejoin="round"/>
</g>
<rect x="12" y="289" width="35" height="12" fill="#fff"/>
<text x="12.31" y="299" transform="scale(1.08,1)" fill="#101048" stroke="#101048" stroke-width="0.12" font-size="9.2" textLength="30.00" lengthAdjust="spacing">MACD</text>
<g clip-path="url(#crsi)">
<rect x="12" y="354" width="497" height="1" fill="#1a1a8a"/>
<rect x="12" y="385" width="497" height="1" fill="#1a1a8a"/>
<polyline points="11.4,388.0 15.6,388.5 19.3,389.0 22.0,388.5 24.8,388.0 28.0,387.1 29.1,385.3" fill="none" stroke="#22dd22" stroke-width="2.9" stroke-linejoin="round" stroke-linecap="round"/>
<polyline points="29.1,385.3 29.9,383.9 32.7,379.7 35.5,383.0 39.2,379.7 42.0,383.0 43.8,384.8 43.9,385.3" fill="none" stroke="#f08014" stroke-width="2.9" stroke-linejoin="round" stroke-linecap="round"/>
<polyline points="43.9,385.3 44.7,388.5 45.6,394.0 47.0,398.0 49.0,398.0 52.1,394.0 54.4,390.0 56.8,389.0 59.0,387.6 61.4,386.2 62.0,385.3" fill="none" stroke="#22dd22" stroke-width="2.9" stroke-linejoin="round" stroke-linecap="round"/>
<polyline points="62.0,385.3 63.2,383.4 65.6,383.0 69.3,383.0 74.8,383.1 78.5,380.0 83.1,373.5 87.8,375.0 95.2,375.3 104.4,371.3 110.0,373.1 115.6,377.2 121.1,375.0 125.6,378.1 129.3,377.2 136.7,372.6 142.2,372.6 147.8,373.5 155.2,372.6 162.6,369.4 166.3,370.7 170.0,375.3 175.6,373.5 180.2,371.3 183.9,373.5 187.6,378.1 191.3,376.3 195.9,377.2 201.5,377.2 205.2,382.7 210.7,380.9 215.4,383.7 220.9,380.9 226.5,377.2 231.1,378.1 236.7,373.5 240.7,365.1 243.9,367.9 248.5,373.5 253.1,374.4 259.6,378.7 265.2,373.5 268.9,377.2 272.6,380.9 277.2,376.3 280.9,377.2 283.7,369.8 287.4,371.6 293.9,364.2 299.4,367.0 305.9,362.4 311.5,361.4 317.0,359.6 322.6,359.0 328.1,362.4 333.7,364.2 339.3,359.6 343.9,356.8 348.3,365.1 353.0,363.3 357.6,364.2 365.9,359.6 369.6,365.1 376.1,369.4 379.8,365.1 385.4,363.3 390.9,360.5 396.5,357.7 401.1,355.0 405.7,360.5 409.4,356.8 414.1,358.7 419.6,363.3 425.2,360.9 430.7,361.4 435.4,367.0 441.9,359.6 446.0,363.6 452.5,367.2 456.7,366.7 460.8,361.4 463.6,355.9 464.8,354.6" fill="none" stroke="#f08014" stroke-width="2.9" stroke-linejoin="round" stroke-linecap="round"/>
<polyline points="464.8,354.6 467.8,351.4 473.3,350.1 477.5,350.3 480.3,351.7 481.7,353.8 482.9,354.6" fill="none" stroke="#e018e0" stroke-width="2.9" stroke-linejoin="round" stroke-linecap="round"/>
<polyline points="482.9,354.6 485.8,356.6 490.7,357.3 495.6,355.2 499.0,356.6 503.2,360.8 506.0,362.8 509.4,364.5" fill="none" stroke="#f08014" stroke-width="2.9" stroke-linejoin="round" stroke-linecap="round"/>
</g>
<rect x="13" y="350" width="19" height="9" fill="#fff"/>
<text x="11.79" y="358" transform="scale(1.12,1)" fill="#dc8426" font-size="9.2" textLength="16.43" lengthAdjust="spacing">RSI</text>
<rect x="11" y="27" width="582" height="1" fill="#76766a"/>
<rect x="11" y="282" width="582" height="1" fill="#76766a"/>
<rect x="11" y="27" width="1" height="256" fill="#808080"/>
<rect x="592" y="27" width="1" height="256" fill="#808080"/>
<rect x="11" y="288" width="582" height="1" fill="#76766a"/>
<rect x="11" y="341" width="582" height="1" fill="#76766a"/>
<rect x="11" y="288" width="1" height="54" fill="#808080"/>
<rect x="592" y="288" width="1" height="54" fill="#808080"/>
<rect x="11" y="347" width="582" height="1" fill="#76766a"/>
<rect x="11" y="402" width="582" height="1" fill="#76766a"/>
<rect x="11" y="347" width="1" height="56" fill="#808080"/>
<rect x="592" y="347" width="1" height="56" fill="#808080"/>
<svg x="12" y="395" width="39" height="15.5" overflow="hidden"><rect x="0" y="0" width="39" height="15.5" fill="#7c9db8"/>
<text x="6.1" y="12" fill="#fff" font-size="9.3" textLength="48.7" lengthAdjust="spacing">8.7.2009</text></svg>
<svg x="52" y="395" width="57.5" height="15.5" overflow="hidden"><rect x="0" y="0" width="57.5" height="15.5" fill="#7c9db8"/>
<text x="4.6" y="12" fill="#fff" font-size="9.3" textLength="48.7" lengthAdjust="spacing">9.7.2009</text></svg>
<svg x="137.7" y="395" width="65.0" height="15.5" overflow="hidden"><rect x="0" y="0" width="65.0" height="15.5" fill="#7c9db8"/>
<text x="5.5" y="12" fill="#fff" font-size="9.3" textLength="54.8" lengthAdjust="spacing">10.7.2009</text></svg>
<svg x="223.8" y="395" width="64.69999999999999" height="15.5" overflow="hidden"><rect x="0" y="0" width="64.69999999999999" height="15.5" fill="#7c9db8"/>
<text x="5.0" y="12" fill="#fff" font-size="9.3" textLength="54.8" lengthAdjust="spacing">13.7.2009</text></svg>
<svg x="299.7" y="395" width="65.0" height="15.5" overflow="hidden"><rect x="0" y="0" width="65.0" height="15.5" fill="#7c9db8"/>
<text x="5.0" y="12" fill="#fff" font-size="9.3" textLength="54.8" lengthAdjust="spacing">14.7.2009</text></svg>
<svg x="385.6" y="395" width="64.89999999999998" height="15.5" overflow="hidden"><rect x="0" y="0" width="64.89999999999998" height="15.5" fill="#7c9db8"/>
<text x="4.9" y="12" fill="#fff" font-size="9.3" textLength="54.8" lengthAdjust="spacing">15.7.2009</text></svg>
<svg x="471.7" y="395" width="65.09999999999997" height="15.5" overflow="hidden"><rect x="0" y="0" width="65.09999999999997" height="15.5" fill="#7c9db8"/>
<text x="5.8" y="12" fill="#fff" font-size="9.3" textLength="54.1" lengthAdjust="spacing">16.7.2009</text></svg>
<svg x="557.7" y="395" width="65.19999999999993" height="15.5" overflow="hidden"><rect x="0" y="0" width="65.19999999999993" height="15.5" fill="#7c9db8"/>
<text x="5.1" y="12" fill="#fff" font-size="9.3" textLength="54.8" lengthAdjust="spacing">17.7.2009</text></svg>
<line x1="51.5" y1="395" x2="51.5" y2="424" stroke="#c8c8c8" stroke-width="1"/>
<line x1="137.5" y1="395" x2="137.5" y2="424" stroke="#c8c8c8" stroke-width="1"/>
<line x1="223.5" y1="395" x2="223.5" y2="424" stroke="#c8c8c8" stroke-width="1"/>
<line x1="299.5" y1="395" x2="299.5" y2="424" stroke="#c8c8c8" stroke-width="1"/>
<line x1="385.5" y1="395" x2="385.5" y2="424" stroke="#c8c8c8" stroke-width="1"/>
<line x1="471.5" y1="395" x2="471.5" y2="424" stroke="#c8c8c8" stroke-width="1"/>
<line x1="557.5" y1="395" x2="557.5" y2="424" stroke="#c8c8c8" stroke-width="1"/>
<text x="7.1" y="423" font-size="9.3" textLength="19.4" lengthAdjust="spacing"><tspan fill="#111">12</tspan><tspan fill="#9a9a9a">ч</tspan></text>
<text x="56.8" y="423" font-size="9.3" textLength="13.9" lengthAdjust="spacing"><tspan fill="#111">0</tspan><tspan fill="#9a9a9a">0</tspan></text>
<text x="97.1" y="423" font-size="9.3" textLength="19.4" lengthAdjust="spacing"><tspan fill="#111">12</tspan><tspan fill="#9a9a9a">ч</tspan></text>
<text x="142.7" y="423" font-size="9.3" textLength="13.9" lengthAdjust="spacing"><tspan fill="#111">0</tspan><tspan fill="#9a9a9a">0</tspan></text>
<text x="178.4" y="423" font-size="9.3" textLength="19.4" lengthAdjust="spacing"><tspan fill="#111">12</tspan><tspan fill="#9a9a9a">ч</tspan></text>
<text x="229.1" y="423" font-size="9.3" textLength="11.4" lengthAdjust="spacing"><tspan fill="#111">3</tspan><tspan fill="#9a9a9a">ч</tspan></text>
<text x="254.6" y="423" font-size="9.3" textLength="19.4" lengthAdjust="spacing"><tspan fill="#111">12</tspan><tspan fill="#9a9a9a">ч</tspan></text>
<text x="305.0" y="423" font-size="9.3" textLength="13.9" lengthAdjust="spacing"><tspan fill="#111">0</tspan><tspan fill="#9a9a9a">0</tspan></text>
<text x="340.4" y="423" font-size="9.3" textLength="19.4" lengthAdjust="spacing"><tspan fill="#111">12</tspan><tspan fill="#9a9a9a">ч</tspan></text>
<text x="390.9" y="423" font-size="9.3" textLength="13.9" lengthAdjust="spacing"><tspan fill="#111">0</tspan><tspan fill="#9a9a9a">0</tspan></text>
<text x="427.0" y="423" font-size="9.3" textLength="19.4" lengthAdjust="spacing"><tspan fill="#111">12</tspan><tspan fill="#9a9a9a">ч</tspan></text>
<text x="477.4" y="423" font-size="9.3" textLength="13.9" lengthAdjust="spacing"><tspan fill="#111">0</tspan><tspan fill="#9a9a9a">0</tspan></text>
<text x="512.6" y="423" font-size="9.3" textLength="19.4" lengthAdjust="spacing"><tspan fill="#111">12</tspan><tspan fill="#9a9a9a">ч</tspan></text>
<text x="563.1" y="423" font-size="9.3" textLength="13.9" lengthAdjust="spacing"><tspan fill="#111">0</tspan><tspan fill="#9a9a9a">0</tspan></text>
</svg>
</body></html>
